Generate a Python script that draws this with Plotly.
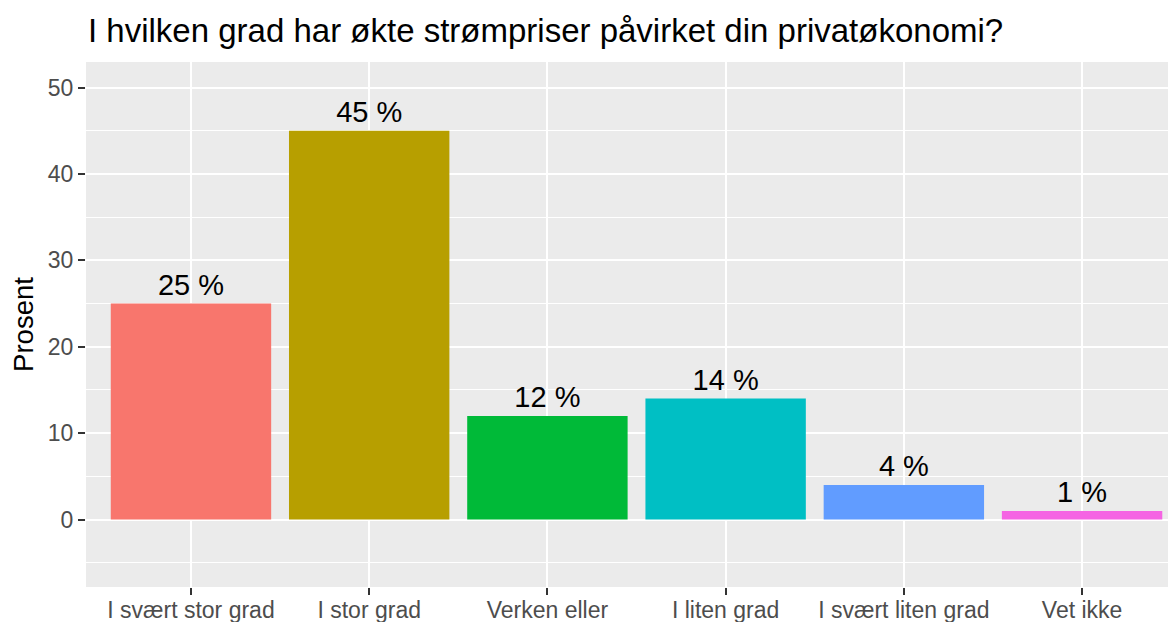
import plotly.graph_objects as go

categories = ["I svært stor grad", "I stor grad", "Verken eller", "I liten grad", "I svært liten grad", "Vet ikke"]
values = [25, 45, 12, 14, 4, 1]
labels = ["25 %", "45 %", "12 %", "14 %", "4 %", "1 %"]
colors = ["#F8766D", "#B79F00", "#00BA38", "#00BFC4", "#619CFF", "#F564E3"]
y_ticks = [0, 10, 20, 30, 40, 50]
y_minor = [-5, 5, 15, 25, 35, 45]

FONT = "Liberation Sans, Arial, sans-serif"
W, H = 1168, 614  # page body adds an 8px margin

fig = go.Figure()
fig.add_trace(go.Bar(
    x=categories, y=values, marker=dict(color=colors, line=dict(width=0)),
    width=0.9, text=labels, textposition="outside", cliponaxis=False,
    textfont=dict(family=FONT, size=29, color="black"),
    showlegend=False, hoverinfo="skip",
))

fig.update_layout(
    width=W, height=H,
    margin=dict(l=78, r=0, t=54, b=H - 579.5, autoexpand=False),
    paper_bgcolor="white", plot_bgcolor="#EBEBEB",
    font=dict(family=FONT),
    title=dict(text="I hvilken grad har økte strømpriser påvirket din privatøkonomi?",
               x=80 / W, xref="container", xanchor="left",
               y=1 - 22 / H, yref="container", yanchor="middle",
               font=dict(size=33, color="black")),
    uniformtext=dict(mode=False),
)
fig.update_xaxes(
    type="category", range=[-0.589, 5.527], showgrid=True, gridcolor="white", gridwidth=2.2,
    ticks="outside", ticklen=7, tickwidth=2, tickcolor="#333333", ticklabelstandoff=-5,
    tickfont=dict(size=23, color="#4D4D4D"), showline=False, zeroline=False, automargin=False,
)
fig.update_yaxes(
    range=[-7.81, 52.97], tickvals=y_ticks, showgrid=True, gridcolor="white", gridwidth=2.2,
    minor=dict(tickvals=y_minor, showgrid=True, gridcolor="white", gridwidth=1.1, ticks=""),
    ticks="outside", ticklen=7, tickwidth=2, tickcolor="#333333",
    tickfont=dict(size=23, color="#4D4D4D"), zeroline=False, showline=False,
    title=dict(text="Prosent", font=dict(size=27.5, color="black"), standoff=10),
    automargin=False,
)
fig.write_html("out.html")
